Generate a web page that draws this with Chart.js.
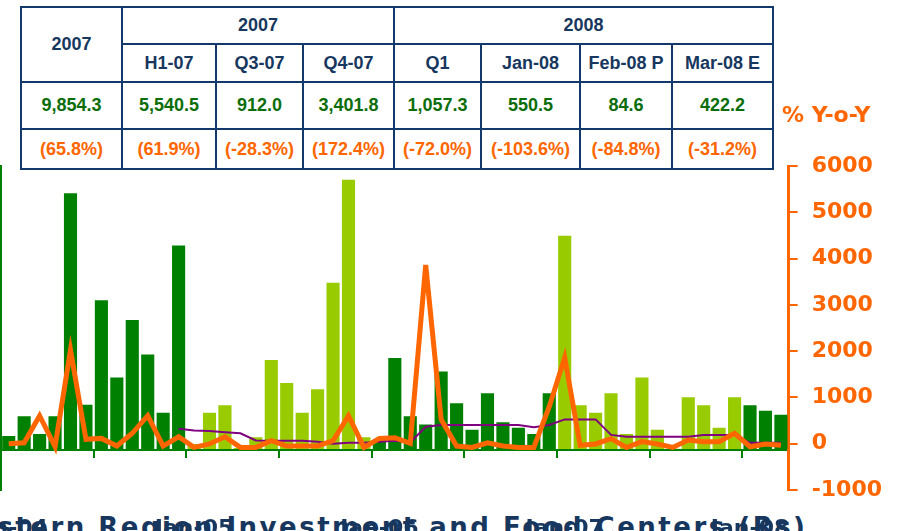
<!DOCTYPE html>
<html>
<head>
<meta charset="utf-8">
<script src="https://cdn.jsdelivr.net/npm/chart.js@4.4.1/dist/chart.umd.min.js"></script>
<style>
  body { margin: 0; background: #fff; }
  #wrap { position: relative; width: 899px; height: 531px; overflow: hidden; }
  #wrap canvas { position: absolute; left: 0; top: 0; }
  #summary { position: absolute; left: 20px; top: 6px; width: 752px; border-collapse: collapse; table-layout: fixed;
    font: bold 18px "Liberation Sans", Arial, sans-serif; text-align: center; background: #fff; color: #17375e; }
  #summary td { border: 2px solid #13386b; padding: 0; }
  #summary td.val { color: #0b6e0b; }
  #summary td.chg { color: #ff6600; }
  #yoy { position: absolute; left: 782px; top: 104px; font: bold 22px "DejaVu Sans", sans-serif; color: #ff6600; line-height: 22px; }
  #title { position: absolute; left: -53px; top: 514px; font: bold 26px "DejaVu Sans", sans-serif; letter-spacing: 2.5px;
    color: #17375e; white-space: nowrap; line-height: 26px; }
</style>
</head>
<body>
<div id="wrap">
  <div id="title">Western Region Investment and Food Centers (Rs)</div>
  <canvas id="chart"></canvas>
  <table id="summary"></table>
  <div id="yoy">% Y-o-Y</div>
</div>
<script>
// months Jan-04 .. Mar-08
const monthNames = ['Jan', 'Feb', 'Mar', 'Apr', 'May', 'Jun', 'Jul', 'Aug', 'Sep', 'Oct', 'Nov', 'Dec'];
const years = ['04', '05', '06', '07', '08'];
const lastYearMonths = 3;

// monthly investment (bars, left axis)
const investment = [
  335, 820, 385, 820, 6330, 1105, 3685, 1775, 3200, 2345, 905, 5040,
  135, 905, 1090, 40, 300, 2210, 1640, 905, 1490, 4120, 6660, 300,
  250, 2260, 820, 620, 1925, 1140, 485, 1390, 670, 535, 385, 1390,
  5275, 1090, 905, 1390, 385, 1775, 485, 20, 1290, 1090, 535, 1290,
  1090, 955, 855
];

// % y-o-y growth (orange line, right axis)
const yoyGrowth = [
  0, 20, 605, -65, 2025, 95, 115, -50, 225, 605, -50, 150,
  -80, -5, 150, -80, -80, 65, -50, -50, -50, 65, 605, -80,
  115, 130, 10, 3860, 525, -50, -80, 20, -50, -80, -80, 800,
  1860, -35, -5, 110, -80, 45, -5, -80, 80, 45, 45, 225,
  -65, -5, -35
];

// 12-month average growth (purple line, right axis)
const avgGrowth = [
  null, null, null, null, null, null, null, null, null, null, null, 325,
  285, 275, 250, 225, 70, 65, 65, 65, 40, 0, 20, 20,
  40, 65, 25, 365, 405, 405, 405, 405, 405, 405, 355, 405,
  525, 525, 525, 190, 150, 150, 150, 150, 150, 190, 190, 190,
  20, 20, 20
];

// summary table
const groupHeads = ['2007', '2008'];
const groupSpans = [3, 4];
const periodHeads = ['H1-07', 'Q3-07', 'Q4-07', 'Q1', 'Jan-08', 'Feb-08 P', 'Mar-08 E'];
const periodValues = ['9,854.3', '5,540.5', '912.0', '3,401.8', '1,057.3', '550.5', '84.6', '422.2'];
const periodChanges = ['(65.8%)', '(61.9%)', '(-28.3%)', '(172.4%)', '(-72.0%)', '(-103.6%)', '(-84.8%)', '(-31.2%)'];

const yAxisTicks = { min: -1000, max: 6000, step: 1000 };

const labels = [];
years.forEach((y, i) => {
  const n = i === years.length - 1 ? lastYearMonths : 12;
  for (let m = 0; m < n; m++) labels.push(monthNames[m] + '-' + y);
});

// build the table
const colWidths = [101, 94, 87, 91, 87, 99, 92, 101];
const tbl = document.getElementById('summary');
let html = '<colgroup>' + colWidths.map(w => `<col style="width:${w}px">`).join('') + '</colgroup>';
html += '<tr style="height:37px"><td rowspan="2">2007</td>' +
  groupHeads.map((g, i) => `<td colspan="${groupSpans[i]}">${g}</td>`).join('') + '</tr>';
html += '<tr style="height:38px">' + periodHeads.map(p => `<td>${p}</td>`).join('') + '</tr>';
html += '<tr style="height:47px">' + periodValues.map(v => `<td class="val">${v}</td>`).join('') + '</tr>';
html += '<tr style="height:40px">' + periodChanges.map(v => `<td class="chg">${v}</td>`).join('') + '</tr>';
tbl.innerHTML = html;

const darkGreen = '#008000';
const lightGreen = '#99cc00';
const orange = '#ff6600';
const navy = '#17375e';

const barColors = labels.map(l => (['05', '07'].includes(l.slice(-2)) ? lightGreen : darkGreen));

new Chart(document.getElementById('chart'), {
  data: {
    labels: labels,
    datasets: [
      {
        type: 'line',
        data: yoyGrowth,
        yAxisID: 'y1',
        borderColor: orange,
        borderWidth: 5,
        pointRadius: 0,
        tension: 0,
        order: 0
      },
      {
        type: 'line',
        data: avgGrowth,
        yAxisID: 'y1',
        borderColor: '#800080',
        borderWidth: 2,
        pointRadius: 0,
        tension: 0,
        order: 1
      },
      {
        type: 'bar',
        data: investment,
        yAxisID: 'y',
        backgroundColor: barColors,
        categoryPercentage: 1,
        barPercentage: 0.85,
        order: 2
      }
    ]
  },
  options: {
    responsive: true,
    maintainAspectRatio: false,
    animation: false,
    layout: {
      autoPadding: false,
      padding: { left: 1, right: 3, top: 166, bottom: 41 }
    },
    plugins: {
      legend: { display: false },
      tooltip: { enabled: false }
    },
    scales: {
      x: {
        position: { y: 0 },
        afterFit: scale => { scale.paddingLeft = 0; scale.paddingRight = 0; },
        grid: {
          offset: true,
          drawOnChartArea: false,
          tickLength: 7,
          lineWidth: 2,
          color: ctx => (ctx.index > 0 && ctx.index % 6 === 0 && ctx.index < labels.length ? darkGreen : 'rgba(0,0,0,0)')
        },
        border: { color: darkGreen, width: 2 },
        ticks: {
          autoSkip: false,
          maxRotation: 0,
          padding: 60,
          color: navy,
          font: { family: 'DejaVu Sans', size: 22, weight: 'bold' },
          callback: (v, i) => (i % 12 === 0 ? labels[i] : '')
        }
      },
      y: {
        position: 'left',
        min: -1000,
        max: 7000,
        ticks: { display: false, stepSize: 1000 },
        grid: { drawOnChartArea: false, drawTicks: false },
        border: { color: darkGreen, width: 2 }
      },
      y1: {
        position: 'right',
        min: yAxisTicks.min,
        max: yAxisTicks.max,
        ticks: {
          stepSize: yAxisTicks.step,
          padding: 14,
          color: orange,
          font: { family: 'DejaVu Sans', size: 22, weight: 'bold' },
          callback: v => String(v)
        },
        grid: { drawOnChartArea: false, tickLength: 9, color: orange, lineWidth: 2 },
        border: { color: orange, width: 3 }
      }
    }
  }
});
</script>
</body>
</html>
